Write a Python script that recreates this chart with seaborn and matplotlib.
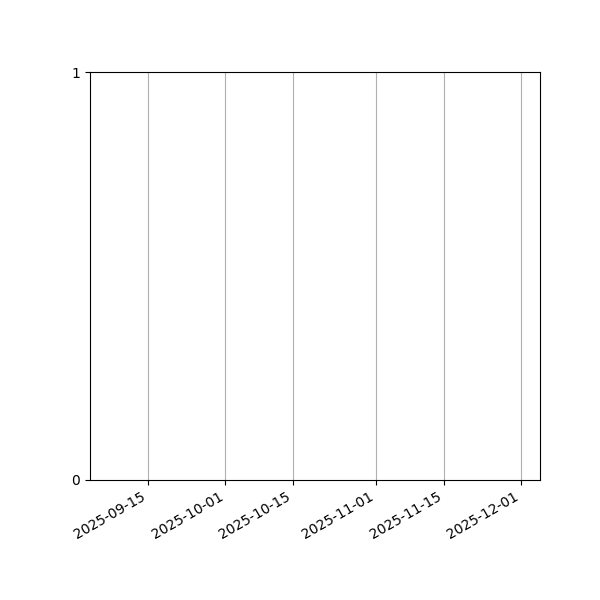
import pandas as pd
import matplotlib
matplotlib.use("Agg")
import matplotlib.pyplot as plt
import seaborn as sns

# rango de fechas visible en el eje x (sin eventos dibujados)
x_range = ["2025-09-03 02:00", "2025-12-04 21:00"]
y_ticks = [0, 1]
event_dates = []
event_values = []

df = pd.DataFrame({
    "fecha": pd.to_datetime(pd.Series(event_dates, dtype="object")),
    "valor": pd.Series(event_values, dtype="float"),
})

fig, ax = plt.subplots(figsize=(6, 6), dpi=100)
sns.lineplot(data=df, x="fecha", y="valor", ax=ax)

ax.set_xlim(pd.to_datetime(x_range[0]), pd.to_datetime(x_range[1]))
ax.set_ylim(y_ticks[0], y_ticks[-1])
ax.set_yticks(y_ticks)
ax.set_xlabel("")
ax.set_ylabel("")
ax.grid(True, axis="x")
ax.grid(False, axis="y")

fig.autofmt_xdate()
fig.subplots_adjust(left=0.15, right=0.9, top=0.88, bottom=0.2)
fig.savefig("out.png", dpi=100)
